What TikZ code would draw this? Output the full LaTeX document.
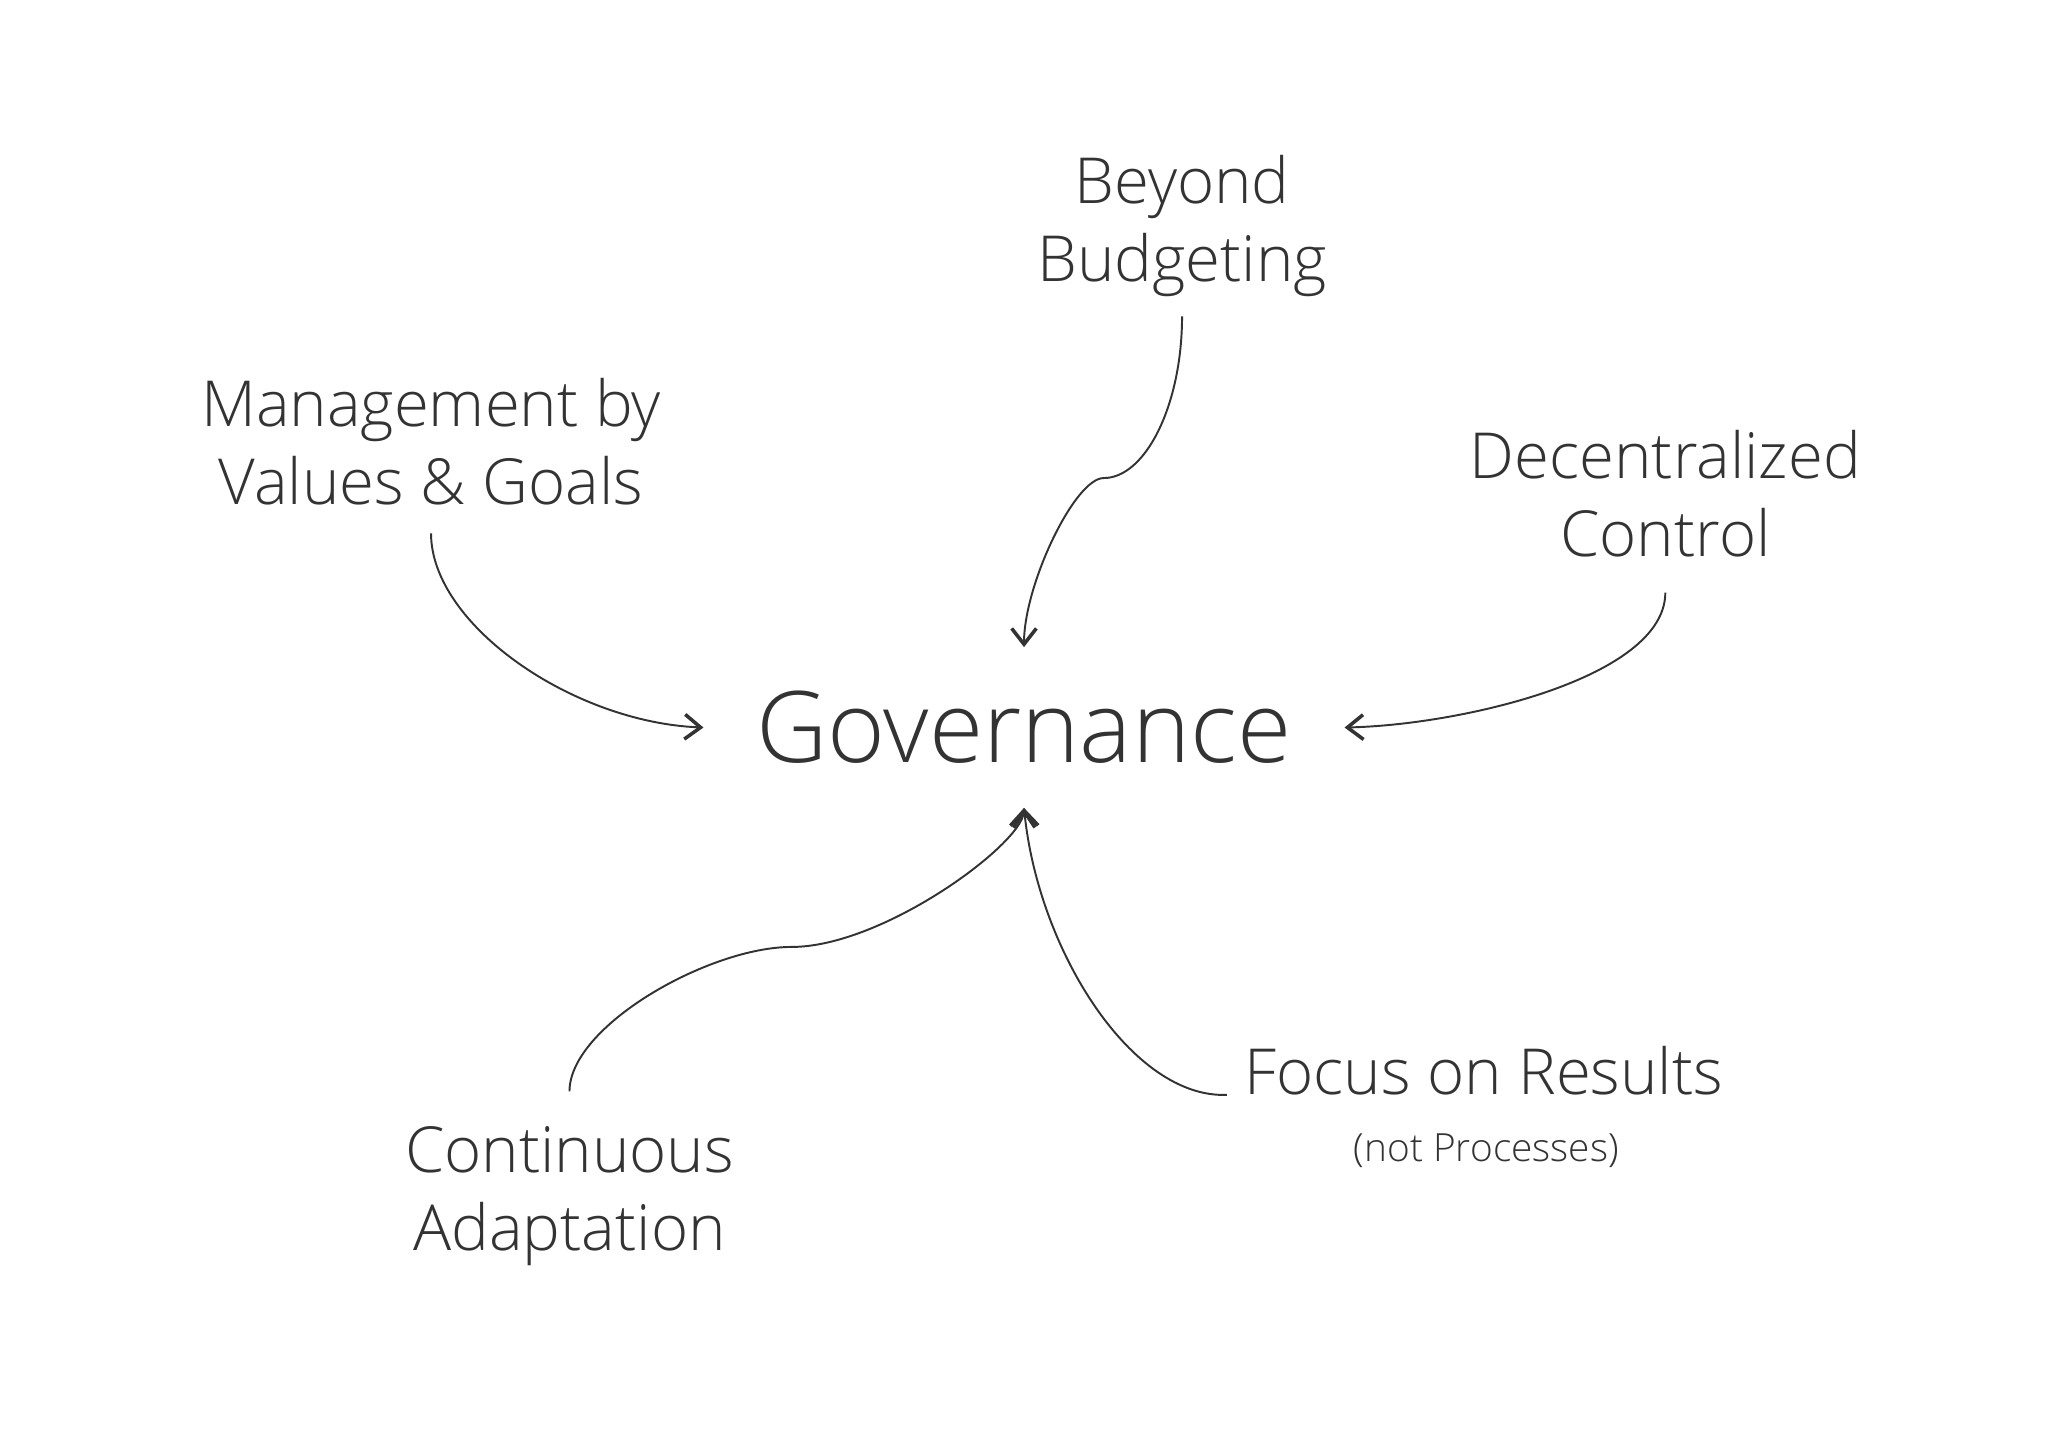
\documentclass[tikz,border=0pt]{standalone}
\usepackage{fontspec}
\setmainfont{Open Sans Light}
\usetikzlibrary{arrows.meta}
\definecolor{ink}{HTML}{333333}

\begin{document}
\begin{tikzpicture}[x=0.3703pt,y=-0.3703pt,
    every node/.style={text=ink,inner sep=0pt,align=center,font=\fontsize{18}{22.2}\selectfont},
    arr/.style={draw=ink,line width=0.55pt,-{Straight Barb[length=4.5pt,width=7pt,line width=1pt]}}]
  \useasboundingbox (0,0) rectangle (1568,1108);
  \node[font=\fontsize{28}{33}\selectfont,outer xsep=15pt,outer ysep=12.5pt] (gov) at (784,557) {Governance};
  \node[outer sep=5.5pt] (bb) at (905,173) {Beyond\\Budgeting};
  \node[outer sep=8pt] (mvg) at (330,338) {Management by\\Values \& Goals};
  \node[outer sep=10pt] (dc) at (1275,378) {Decentralized\\Control};
  \node[outer sep=10pt] (ca) at (436,916) {Continuous\\Adaptation};
  \node[outer xsep=5pt] (focus) at (1136,820) {Focus on Results};
  \node[font=\fontsize{11}{13}\selectfont] (np) at (1138,881) {(not Processes)};
  \coordinate (bbk) at (845,366);
  \coordinate (cak) at (606,725);
  \draw[arr] (mvg.south) .. controls +(0,70) and +(-100,-4) .. (gov.west);
  \draw[arr] (bb.south) .. controls +(0,68) and +(32,0) .. (bbk) .. controls +(-22,0) and +(0,-48) .. (gov.north);
  \draw[arr] (dc.south) .. controls +(0,65) and +(90,-2) .. (gov.east);
  \draw[arr] (ca.north) .. controls +(0,-50) and +(-63,0) .. (cak) .. controls +(70,0) and +(-2,28) .. (gov.south);
  \draw[arr] (focus.base west) .. controls +(-72,3) and +(11,110) .. (gov.south);
\end{tikzpicture}
\end{document}
